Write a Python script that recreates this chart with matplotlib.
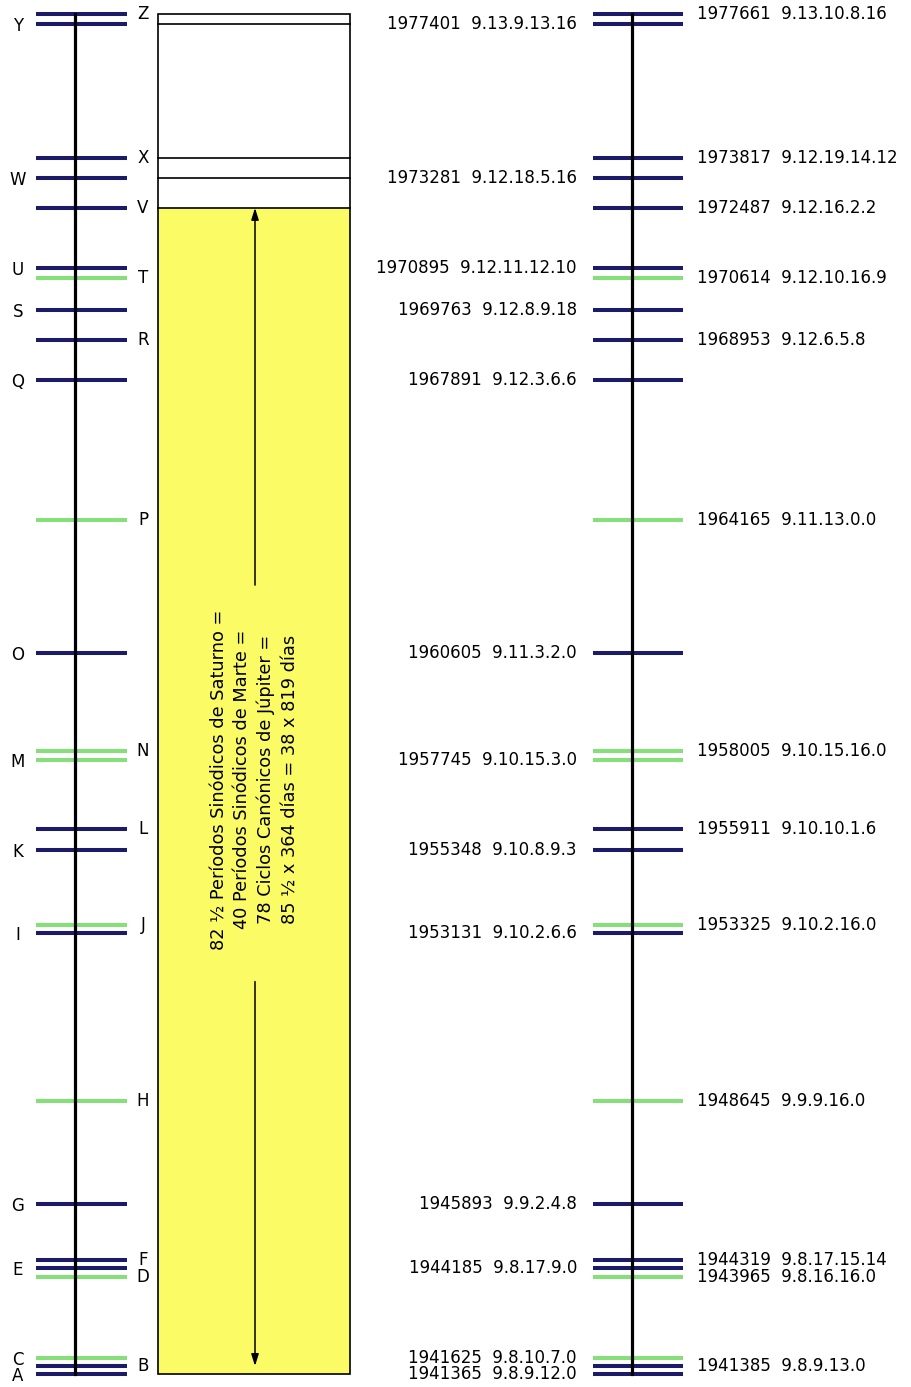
import matplotlib.pyplot as plt
from matplotlib.patches import Rectangle

# events: letter, day number, long count, line colour kind
letters = list("ABCDEFGHIJKLMNOPQRSTUVWXYZ")
days = [1941365, 1941385, 1941625, 1943965, 1944185, 1944319, 1945893,
        1948645, 1953131, 1953325, 1955348, 1955911, 1957745, 1958005,
        1960605, 1964165, 1967891, 1968953, 1969763, 1970614, 1970895,
        1972487, 1973281, 1973817, 1977401, 1977661]
long_counts = ["9.8.9.12.0", "9.8.9.13.0", "9.8.10.7.0", "9.8.16.16.0",
               "9.8.17.9.0", "9.8.17.15.14", "9.9.2.4.8", "9.9.9.16.0",
               "9.10.2.6.6", "9.10.2.16.0", "9.10.8.9.3", "9.10.10.1.6",
               "9.10.15.3.0", "9.10.15.16.0", "9.11.3.2.0", "9.11.13.0.0",
               "9.12.3.6.6", "9.12.6.5.8", "9.12.8.9.18", "9.12.10.16.9",
               "9.12.11.12.10", "9.12.16.2.2", "9.12.18.5.16",
               "9.12.19.14.12", "9.13.9.13.16", "9.13.10.8.16"]
kinds = ["b", "b", "g", "g", "b", "b", "b", "g", "b", "g", "b", "b", "g",
         "g", "b", "g", "b", "b", "b", "g", "b", "b", "b", "b", "b", "b"]

box_text = ("82 ½ Períodos Sinódicos de Saturno =\n"
            "40 Períodos Sinódicos de Marte =\n"
            "78 Ciclos Canónicos de Júpiter =\n"
            "85 ½ x 364 días = 38 x 819 días")

blue = "#1b1b6a"
green = "#86e07a"
yellow = "#fbfb66"

W, H = 911, 1387
px = (days[-1] - days[0]) / 1360.0   # days per pixel

# keep neighbouring ticks at least 8 px apart
ys = []
for d in days:
    if ys and d - ys[-1] < 8 * px:
        d = ys[-1] + 8 * px
    ys.append(d)

fig = plt.figure(figsize=(W / 100, H / 100), dpi=100)
ax = fig.add_axes([0, 0, 1, 1])
ax.set_xlim(0, W)
ax.set_ylim(days[0] - 13 * px, days[-1] + 14 * px)
ax.axis("off")

plt.rcParams["font.family"] = "DejaVu Sans"
fs = 12

# the two time lines
for xc, x0, x1 in [(75, 36, 127), (632, 593, 683)]:
    ax.plot([xc, xc], [ys[0], ys[-1]], color="black", lw=2.3, zorder=3)
    for y, k in zip(ys, kinds):
        ax.plot([x0, x1], [y, y], color=blue if k == "b" else green,
                lw=2.9, solid_capstyle="butt", zorder=2)

for i, (y, let, d, lc) in enumerate(zip(ys, letters, days, long_counts)):
    label = f"{d}  {lc}"
    if i % 2 == 0:
        ax.text(18, y - 2 * px, let, ha="center", va="center", fontsize=fs)
        ax.text(577, y, label, ha="right", va="center", fontsize=fs)
    else:
        ax.text(143, y, let, ha="center", va="center", fontsize=fs)
        ax.text(697, y, label, ha="left", va="center", fontsize=fs)

# box with the yellow interval V -> A
yA, yV = ys[0], ys[letters.index("V")]
ax.add_patch(Rectangle((158, yA), 192, yV - yA, facecolor=yellow,
                       edgecolor="none", zorder=1))
ax.add_patch(Rectangle((158, yA), 192, ys[-1] - yA, facecolor="none",
                       edgecolor="black", lw=1.2, zorder=4))
for let in "YXWV":
    y = ys[letters.index(let)]
    ax.plot([158, 350], [y, y], color="black", lw=1.2, zorder=4)

span = yV - yA
mid = yV - 0.4935 * span
gap = 0.17 * span
arrow = dict(arrowstyle="-|>,head_length=0.7,head_width=0.22",
             color="black", lw=1.1, shrinkA=0, shrinkB=0)
ax.annotate("", xy=(255, yV), xytext=(255, mid + gap), arrowprops=arrow)
ax.annotate("", xy=(255, ys[1]), xytext=(255, mid - gap), arrowprops=arrow)
ax.text(254, mid + 4 * px, box_text, rotation=90, ha="center", va="center",
        multialignment="center", fontsize=12.8, linespacing=1.4)

fig.savefig("out.png", dpi=100)
